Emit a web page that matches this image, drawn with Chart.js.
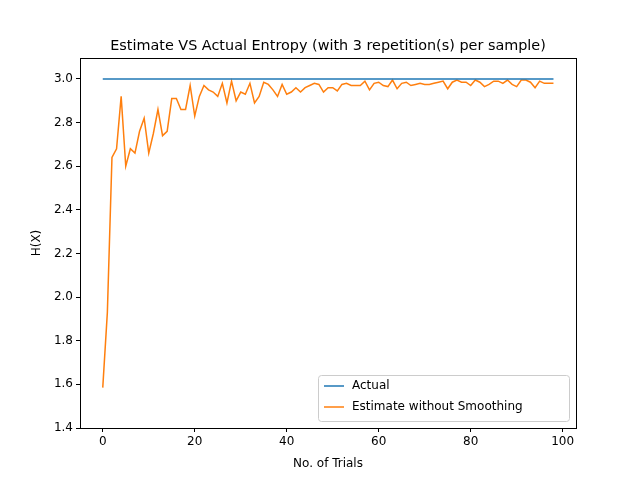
<!DOCTYPE html>
<html><head><meta charset="utf-8">
<script src="https://cdn.jsdelivr.net/npm/chart.js@4"></script>
<style>body{margin:0;background:#fff}</style>
</head><body>
<canvas id="c" width="640" height="480"></canvas>
<script>
// values
var actual = 3.0;
var estimate = [1.585,1.93,2.64,2.68,2.92,2.60,2.68,2.66,2.76,2.82,2.66,2.75,2.86,2.74,2.76,2.91,2.91,2.86,2.86,2.97,
  2.83,2.92,2.97,2.95,2.94,2.92,2.98,2.89,2.99,2.90,2.94,2.93,2.98,2.89,2.92,2.985,2.975,2.95,2.92,2.975,
  2.93,2.94,2.96,2.94,2.96,2.97,2.98,2.975,2.94,2.96,2.96,2.945,2.975,2.98,2.97,2.97,2.97,2.99,2.95,2.98,
  2.985,2.97,2.965,2.995,2.955,2.98,2.985,2.97,2.975,2.98,2.975,2.975,2.98,2.985,2.99,2.955,2.985,2.995,2.985,2.985,
  2.97,2.995,2.985,2.965,2.975,2.99,2.99,2.98,2.995,2.975,2.965,2.995,2.995,2.985,2.96,2.99,2.98,2.98,2.98];
var xTicks = [0,20,40,60,80,100];
var yTicks = [1.4,1.6,1.8,2.0,2.2,2.4,2.6,2.8,3.0];
var seriesNames = ['Actual','Estimate without Smoothing'];
var colors = ['#1f77b4','#ff7f0e'];

var estPts = estimate.map(function(v,i){return {x:i,y:v};});
var actPts = estimate.map(function(v,i){return {x:i,y:actual};});
var font = 'DejaVu Sans';

function roundRect(c,x,y,w,h,r){
  c.beginPath(); c.moveTo(x+r,y); c.lineTo(x+w-r,y); c.quadraticCurveTo(x+w,y,x+w,y+r);
  c.lineTo(x+w,y+h-r); c.quadraticCurveTo(x+w,y+h,x+w-r,y+h); c.lineTo(x+r,y+h);
  c.quadraticCurveTo(x,y+h,x,y+h-r); c.lineTo(x,y+r); c.quadraticCurveTo(x,y,x+r,y); c.closePath();
}

var extras = {
  id:'extras',
  afterDraw:function(chart){
    var c = chart.ctx, a = chart.chartArea;
    c.save();
    c.strokeStyle='#000'; c.lineWidth=1;
    c.strokeRect(Math.round(a.left)+0.5, Math.round(a.top)+0.5, Math.round(a.right-a.left), Math.round(a.bottom-a.top));
    c.fillStyle='#000'; c.textAlign='center';
    c.font='14.4px "'+font+'"'; c.textBaseline='alphabetic';
    c.fillText('Estimate VS Actual Entropy (with 3 repetition(s) per sample)', (a.left+a.right)/2, 50);
    c.font='12px "'+font+'"';
    c.fillText('No. of Trials', (a.left+a.right)/2, 467);
    c.translate(40,(a.top+a.bottom)/2); c.rotate(-Math.PI/2);
    c.fillText('H(X)',0,0);
    c.restore();
    // legend
    c.save();
    var bx=318, by=375, bw=251, bh=46;
    c.fillStyle='rgba(255,255,255,0.8)'; c.strokeStyle='#ccc'; c.lineWidth=1;
    roundRect(c,bx+0.5,by+0.5,bw,bh,3); c.fill(); c.stroke();
    c.font='12px "'+font+'"'; c.textBaseline='middle'; c.textAlign='left';
    for (var i=0;i<2;i++){
      var yy = by+11+i*21;
      c.strokeStyle=colors[i]; c.lineWidth=1.5;
      c.beginPath(); c.moveTo(bx+6,yy); c.lineTo(bx+26,yy); c.stroke();
      c.fillStyle='#000'; c.fillText(seriesNames[i], bx+34, yy);
    }
    c.restore();
  }
};

new Chart(document.getElementById('c'), {
  type:'line',
  data:{datasets:[
    {label:seriesNames[0],data:actPts,borderColor:colors[0],borderWidth:1.5,pointRadius:0,tension:0},
    {label:seriesNames[1],data:estPts,borderColor:colors[1],borderWidth:1.5,pointRadius:0,tension:0}
  ]},
  options:{
    responsive:false, animation:false, devicePixelRatio:1,
    layout:{padding:{left:0,right:64,top:58,bottom:0}},
    plugins:{legend:{display:false},tooltip:{enabled:false}},
    scales:{
      x:{type:'linear',min:-4.95,max:102.9,
        afterBuildTicks:function(s){s.ticks=xTicks.map(function(v){return {value:v};});},
        afterFit:function(s){s.height=52;},
        grid:{display:true,drawOnChartArea:false,drawTicks:true,tickLength:4,color:'#000'},
        border:{color:'#000'},
        ticks:{color:'#000',font:{family:font,size:12},padding:3,maxRotation:0,callback:function(v){return v;}}},
      y:{min:1.4,max:3.096,
        afterBuildTicks:function(s){s.ticks=yTicks.map(function(v){return {value:v};});},
        afterFit:function(s){s.width=80;},
        grid:{display:true,drawOnChartArea:false,drawTicks:true,tickLength:4,color:'#000'},
        border:{color:'#000'},
        ticks:{color:'#000',font:{family:font,size:12},padding:3,callback:function(v){return v.toFixed(1);}}}
    }
  },
  plugins:[extras]
});
</script>
</body></html>
